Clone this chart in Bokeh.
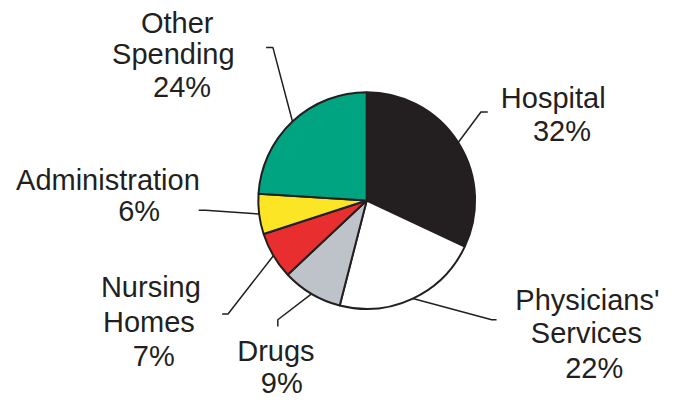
import math
from bokeh.plotting import figure
from bokeh.models import Range1d
from bokeh.core.properties import value
from bokeh.embed import file_html
from bokeh.resources import INLINE

# ---- data ----
categories = ["Hospital", "Physicians' Services", "Drugs", "Nursing Homes", "Administration", "Other Spending"]
percents = [32, 22, 9, 7, 6, 24]
colors = ["#231f20", "#ffffff", "#bec3c9", "#e92e30", "#fbe525", "#00a480"]
label_lines = [["Hospital", "32%"],
               ["Physicians'", "Services", "22%"],
               ["Drugs", "9%"],
               ["Nursing", "Homes", "7%"],
               ["Administration", "6%"],
               ["Other", "Spending", "24%"]]

# ---- layout (reference pixel coordinates, 681x417) ----
RW, RH = 681, 417
W, H = 665, 401
TEXT_SHIFT = 10  # renderer places alphabetic baseline lower; compensate
def X(s): return s
def Y(s): return RH - s

CX, CY, R = 375, 208, 111
ky = (W / RW) / (H / RH)   # data-y radius factor so the circle stays round
# elbow and end of each leader line
leader_elbow = [(492, 116), (503, 332), (284, 332), (233, 326), (210, 218), (279, 49)]
leader_end = [(499, 116), (508, 332), (284, 339), (227, 326), (203, 218), (272, 49)]
# (center x, baseline y) for each text line
label_pos = [[(566, 111), (575, 146)],
             [(601, 321), (600, 356), (608, 392)],
             [(282, 375), (288, 408)],
             [(154, 308), (152, 344), (157, 380)],
             [(110, 197), (142, 229)],
             [(181, 33), (177, 66), (186, 100)]]

p = figure(width=W, height=H, x_range=Range1d(0, RW), y_range=Range1d(0, RH),
           output_backend="svg", toolbar_location=None, min_border=0,
           x_axis_location=None, y_axis_location=None)
p.grid.visible = False
p.outline_line_color = None
p.background_fill_color = "white"
p.border_fill_color = "white"

total = float(sum(percents))
cum = 0.0
starts, ends, mids = [], [], []
for v in percents:
    a0 = cum / total
    cum += v
    a1 = cum / total
    starts.append(math.pi / 2 - 2 * math.pi * a1)
    ends.append(math.pi / 2 - 2 * math.pi * a0)
    mids.append(math.pi / 2 - 2 * math.pi * (a0 + a1) / 2)

p.wedge(x=[X(CX)] * len(percents), y=[Y(CY)] * len(percents), radius=R,
        start_angle=starts, end_angle=ends, fill_color=colors,
        line_color="#231f20", line_width=2)

xs, ys = [], []
for m, el, en in zip(mids, leader_elbow, leader_end):
    sx = CX + R * math.cos(m)
    sy = CY - R * ky * math.sin(m)
    xs.append([X(sx), X(el[0]), X(en[0])])
    ys.append([Y(sy), Y(el[1]), Y(en[1])])
p.multi_line(xs=xs, ys=ys, line_color="#231f20", line_width=1.5)

tx, ty, tt = [], [], []
for lines, poss in zip(label_lines, label_pos):
    for t, (px, py) in zip(lines, poss):
        tx.append(X(px)); ty.append(Y(py - TEXT_SHIFT)); tt.append(t)
p.text(x=tx, y=ty, text=tt, text_align="center", text_baseline="alphabetic",
       text_font=value("Liberation Sans"), text_font_size="29px", text_color="#231f20")

open("out.html", "w").write(file_html(p, INLINE))
